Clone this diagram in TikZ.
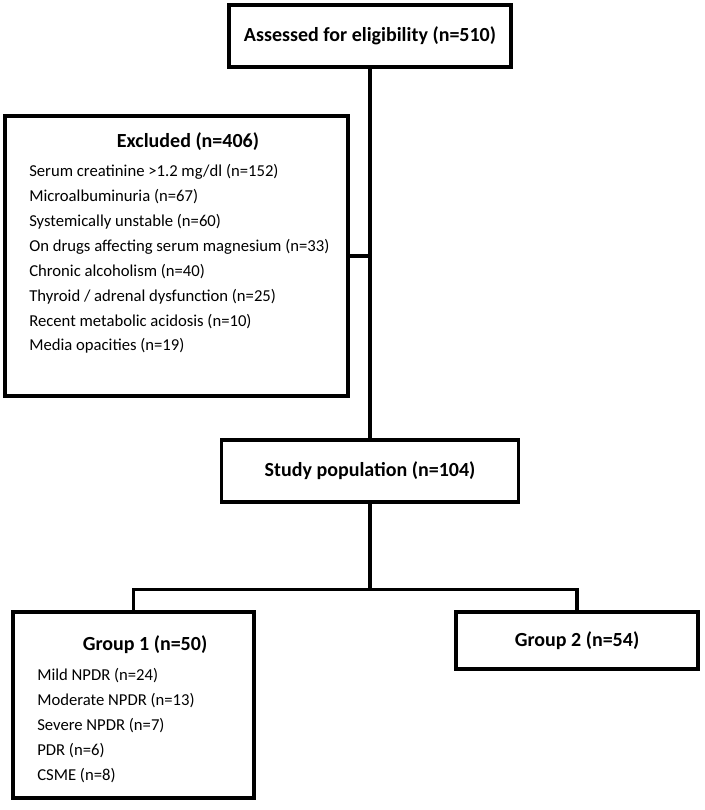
\documentclass[tikz,border=0pt]{standalone}
\usepackage{fontspec}
\setmainfont{Carlito}
\usetikzlibrary{positioning,calc}

\begin{document}
\begin{tikzpicture}[
  x=0.75pt,y=-0.75pt,
  box/.style={draw,line width=2.4pt,inner sep=0pt},
  head/.style={font=\fontsize{15}{18}\selectfont\bfseries,inner sep=0pt},
  items/.style={align=left,anchor=north west,inner sep=0pt,font=\fontsize{12.5}{18.7}\selectfont},
  link/.style={line width=2.4pt}
]
\useasboundingbox (0,0) rectangle (704,810);
\node[box,minimum width=211.5pt,minimum height=46.5pt] (assess) at (370,36) {};
\node[head] (assesstxt) at (assess.center) {Assessed for eligibility (n=510)};
\node[box,minimum width=257.25pt,minimum height=210pt] (excl) at (176.5,256) {};
\node[head] (excltxt) at (188,142) {Excluded (n=406)};
\node[items] (excllist) at (29,164) {Serum creatinine >1.2 mg/dl (n=152)\\Microalbuminuria (n=67)\\Systemically unstable (n=60)\\On drugs affecting serum magnesium (n=33)\\Chronic alcoholism (n=40)\\Thyroid / adrenal dysfunction (n=25)\\Recent metabolic acidosis (n=10)\\Media opacities (n=19)};
\node[box,minimum width=222.75pt,minimum height=46.5pt] (study) at (370,471) {};
\node[head] (studytxt) at (study.center) {Study population (n=104)};
\node[box,minimum width=180.75pt,minimum height=139.5pt] (g1) at (133.5,705) {};
\node[head] (g1txt) at (145,645) {Group 1 (n=50)};
\node[items] (g1list) at (37,668) {Mild NPDR (n=24)\\Moderate NPDR (n=13)\\Severe NPDR (n=7)\\PDR (n=6)\\CSME (n=8)};
\node[box,minimum width=181.5pt,minimum height=42.75pt] (g2) at (577,640.5) {};
\node[head] (g2txt) at (g2.center) {Group 2 (n=54)};
\coordinate (join) at (assess.south |- excl.east);
\coordinate (split) at ($(study.south)+(0,86)$);
\draw[link] (assess.south) -- (study.north);
\draw[link] (join) -- (excl.east);
\draw[link] (study.south) -- (split);
\draw[link] (g1.north) |- (split) -| (g2.north);
\end{tikzpicture}
\end{document}
